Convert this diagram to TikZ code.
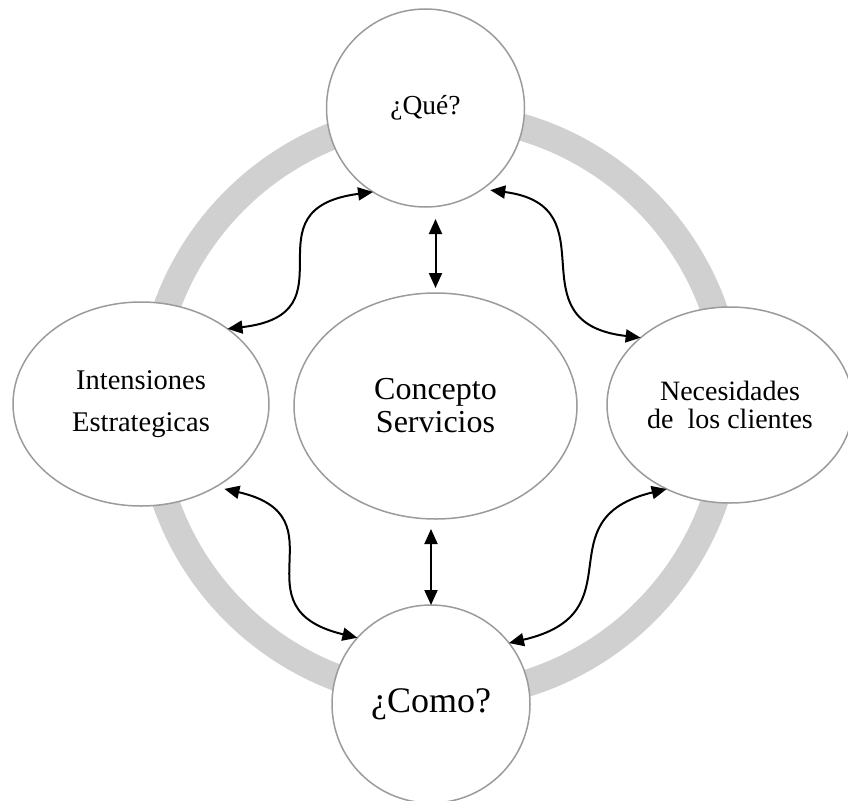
\documentclass[tikz,border=0pt]{standalone}
\usepackage{fontspec}
\setmainfont{Liberation Serif}
\usetikzlibrary{shapes.geometric,arrows.meta}
\definecolor{ringgray}{RGB}{208,208,208}
\definecolor{edgegray}{RGB}{155,155,155}
\begin{document}
\begin{tikzpicture}[x=1pt,y=-1pt,
  blob/.style={draw=edgegray, line width=1.5pt, fill=white, inner sep=0pt, outer sep=0pt, align=center},
  circ/.style={blob, circle, minimum size=198pt},
  ell/.style={blob, ellipse},
  arr/.style={{Triangle[length=15pt,width=13pt]}-{Triangle[length=15pt,width=13pt]}, line width=2pt, black}]
\useasboundingbox (0,0) rectangle (848,800);
\draw[ringgray, line width=27pt] (440,406) circle[radius=290.5pt];
\node[circ, font=\fontsize{27.5}{30}\selectfont] (Q) at (425.5,108) {¿Qué?};
\node[ell, minimum width=256pt, minimum height=204pt, font=\fontsize{28.5}{42.7}\selectfont] (L) at (141,404) {Intensiones\\Estrategicas};
\node[ell, minimum width=283pt, minimum height=226pt, font=\fontsize{32}{33}\selectfont] (E) at (435.5,406) {Concepto\\Servicios};
\node[ell, minimum width=246pt, minimum height=196pt, font=\fontsize{28}{28}\selectfont] (R) at (730,405) {Necesidades\\de~ los clientes};
\node[circ, font=\fontsize{36}{40}\selectfont] (C) at (431,704) {¿Como?};
\draw[arr] (L.41) .. controls +(130,-15) and +(-131,17) .. (Q.-122);
\draw[arr, shorten <=8pt] (Q.-55) .. controls +(131,17) and +(-130,-15) .. (R.143);
\draw[arr, shorten <=9pt] (L.-48) .. controls +(130,30) and +(-125,-30) .. (C.138);
\draw[arr] (R.-127) .. controls +(-125,30) and +(130,-30) .. (C.38);
\draw[arr, shorten <=12pt, shorten >=5pt] (Q.south -| E.north) -- (E.north);
\draw[arr, shorten <=10pt] (E.south -| C.north) -- (C.north);
\end{tikzpicture}
\end{document}
